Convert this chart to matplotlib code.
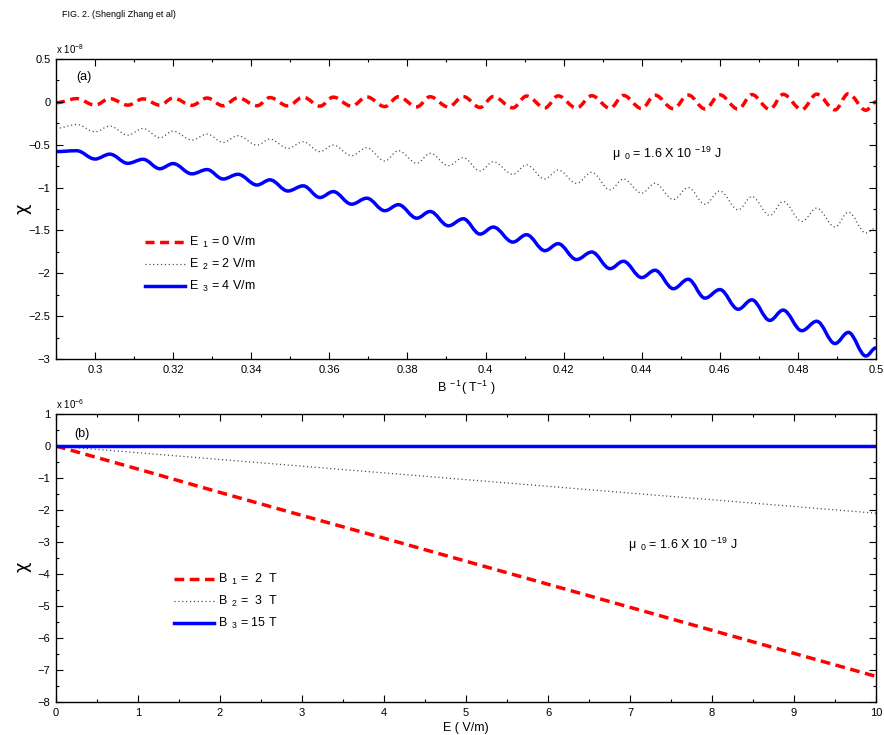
import matplotlib
matplotlib.use("Agg")
from matplotlib import pyplot as plt
from matplotlib.path import Path
from matplotlib.patches import PathPatch
from matplotlib.ticker import MultipleLocator, FuncFormatter

plt.rcParams['font.family'] = ['Liberation Sans', 'DejaVu Sans']
plt.rcParams['mathtext.fontset'] = 'custom'
plt.rcParams['mathtext.rm'] = 'Liberation Sans'
plt.rcParams['mathtext.it'] = 'Liberation Sans:italic'
plt.rcParams['mathtext.default'] = 'regular'

# ---- panel (a): chi (x 1e-8) vs 1/B, peaks and troughs
inv_B = [0.2900, 0.2953, 0.3000, 0.3038, 0.3084, 0.3123, 0.3166, 0.3200, 0.3248, 0.3287,
         0.3328, 0.3366, 0.3415, 0.3448, 0.3494, 0.3533, 0.3576, 0.3610, 0.3657, 0.3696,
         0.3742, 0.3777, 0.3824, 0.3858, 0.3905, 0.3943, 0.3986, 0.4020, 0.4070, 0.4105,
         0.4152, 0.4186, 0.4233, 0.4272, 0.4319, 0.4353, 0.4400, 0.4434, 0.4481, 0.4519,
         0.4562, 0.4600, 0.4647, 0.4682, 0.4728, 0.4762, 0.4810, 0.4848, 0.4895, 0.4929,
         0.4974, 0.5000]
chi_E1 = [-0.010, 0.038, -0.038, 0.038, -0.038, 0.035, -0.038, 0.045, -0.040, 0.045,
          -0.045, 0.048, -0.045, 0.050, -0.047, 0.055, -0.050, 0.055, -0.050, 0.058,
          -0.055, 0.060, -0.058, 0.060, -0.060, 0.062, -0.065, 0.062, -0.070, 0.068,
          -0.070, 0.070, -0.072, 0.072, -0.075, 0.075, -0.078, 0.078, -0.080, 0.080,
          -0.082, 0.082, -0.085, 0.085, -0.088, 0.088, -0.090, 0.090, -0.093, 0.095,
          -0.097, 0.000]
chi_E2 = [-0.310, -0.264, -0.349, -0.283, -0.388, -0.310, -0.419, -0.341, -0.446, -0.376,
          -0.473, -0.395, -0.504, -0.434, -0.543, -0.465, -0.580, -0.504, -0.628, -0.535,
          -0.690, -0.570, -0.717, -0.600, -0.744, -0.651, -0.806, -0.698, -0.845, -0.736,
          -0.900, -0.795, -0.950, -0.822, -1.027, -0.900, -1.066, -0.950, -1.140, -1.000,
          -1.194, -1.040, -1.260, -1.105, -1.326, -1.163, -1.395, -1.240, -1.460, -1.287,
          -1.530, -1.470]
chi_E3 = [-0.580, -0.570, -0.667, -0.610, -0.717, -0.670, -0.780, -0.720, -0.840, -0.790,
          -0.900, -0.845, -0.970, -0.910, -1.040, -0.980, -1.116, -1.047, -1.194, -1.124,
          -1.270, -1.200, -1.357, -1.279, -1.446, -1.364, -1.543, -1.461, -1.636, -1.550,
          -1.736, -1.655, -1.840, -1.752, -1.946, -1.860, -2.050, -1.965, -2.180, -2.070,
          -2.290, -2.190, -2.420, -2.310, -2.550, -2.430, -2.670, -2.560, -2.820, -2.690,
          -2.965, -2.870]
labels_a = [r'E$_{\ \ 1}$ = 0 V/m', r'E$_{\ \ 2}$ = 2 V/m', r'E$_{\ \ 3}$ = 4 V/m']

# ---- panel (b): chi (x 1e-6) vs E
E_field = [0, 1, 2, 3, 4, 5, 6, 7, 8, 9, 10]
chi_B1 = [0, -0.72, -1.45, -2.17, -2.88, -3.60, -4.32, -5.04, -5.76, -6.48, -7.20]
chi_B2 = [0, -0.21, -0.42, -0.63, -0.84, -1.05, -1.26, -1.47, -1.68, -1.89, -2.10]
chi_B3 = [0, 0, 0, 0, 0, 0, 0, 0, 0, 0, 0]
labels_b = [r'B$_{\ \ 1}$ =  2  T', r'B$_{\ \ 2}$ =  3  T', r'B$_{\ \ 3}$ = 15 T']

red = (1, 0, 0)
gray = (0.25, 0.25, 0.25)
blue = (0, 0, 1)
mu_txt = r'$\mu_{\ \ 0}$ = 1.6 X 10$^{\ -19}$ J'


def smooth(xs, ys):
    # bezier through the read extrema, flat tangent at each one
    verts = [(xs[0], ys[0])]
    codes = [Path.MOVETO]
    for i in range(len(xs) - 1):
        d = (xs[i + 1] - xs[i]) * 0.36
        verts += [(xs[i] + d, ys[i]), (xs[i + 1] - d, ys[i + 1]), (xs[i + 1], ys[i + 1])]
        codes += [Path.CURVE4] * 3
    return Path(verts, codes)


def fmt(v, pos):
    return ('%g' % v).replace('-', '\u2212')


def style_axes(ax):
    ax.tick_params(which='both', direction='in', top=True, right=True,
                   labelsize=8, pad=4, width=0.8)
    ax.tick_params(which='major', length=5)
    ax.tick_params(which='minor', length=2.5)
    ax.xaxis.set_major_formatter(FuncFormatter(fmt))
    ax.yaxis.set_major_formatter(FuncFormatter(fmt))
    for s in ax.spines.values():
        s.set_linewidth(1.0)


fig = plt.figure(figsize=(8.84, 7.35), dpi=100)
fig.text(0.07, 0.986, "FIG. 2. (Shengli Zhang et al)", fontsize=6.5, va='top')

# ---------------- (a)
axA = fig.add_axes([0.0633, 0.5116, 0.9277, 0.4081])
specs = [(chi_E1, red, 2.5, (0, (2.6, 1.6))),
         (chi_E2, gray, 0.9, (0, (0.9, 2.2))),
         (chi_E3, blue, 2.5, 'solid')]
for (ys, c, lw, ls), lab in zip(specs, labels_a):
    axA.add_patch(PathPatch(smooth(inv_B, ys), fill=False, edgecolor=c,
                            linewidth=lw, linestyle=ls))
    axA.plot([], [], color=c, lw=lw, linestyle=ls, label=lab)
axA.set_xlim(0.29, 0.5)
axA.set_ylim(-3, 0.5)
axA.xaxis.set_major_locator(MultipleLocator(0.02))
axA.xaxis.set_minor_locator(MultipleLocator(0.01))
axA.yaxis.set_major_locator(MultipleLocator(0.5))
axA.yaxis.set_minor_locator(MultipleLocator(0.25))
style_axes(axA)
axA.set_xlabel(r'B$^{\ -1}$( T$^{-1}$ )', fontsize=9, labelpad=3)
axA.set_ylabel('\u03c7', fontsize=13, family='DejaVu Sans')
axA.yaxis.set_label_coords(-0.03, 0.5)
axA.text(0.0, 1.01, r'x 10$^{-8}$', transform=axA.transAxes, fontsize=7, va='bottom')
axA.text(0.025, 0.93, '(a)', transform=axA.transAxes, fontsize=9)
axA.text(0.678, 0.67, mu_txt, transform=axA.transAxes, fontsize=9)
axA.legend(loc='upper left', bbox_to_anchor=(0.095, 0.45), frameon=False, fontsize=9,
           handlelength=3.2, handletextpad=0.3, labelspacing=0.55)

# ---------------- (b)
axB = fig.add_axes([0.0633, 0.0449, 0.9277, 0.3918])
axB.plot(E_field, chi_B1, color=red, lw=2.5, dashes=(2.8, 1.6), label=labels_b[0])
axB.plot(E_field, chi_B2, color=gray, lw=0.9, dashes=(0.9, 2.2), label=labels_b[1])
axB.plot(E_field, chi_B3, color=blue, lw=2.5, label=labels_b[2])
axB.set_xlim(0, 10)
axB.set_ylim(-8, 1)
axB.xaxis.set_major_locator(MultipleLocator(1))
axB.xaxis.set_minor_locator(MultipleLocator(0.5))
axB.yaxis.set_major_locator(MultipleLocator(1))
axB.yaxis.set_minor_locator(MultipleLocator(0.5))
style_axes(axB)
axB.set_xlabel('E ( V/m)', fontsize=9, labelpad=3)
axB.set_ylabel('\u03c7', fontsize=13, family='DejaVu Sans')
axB.yaxis.set_label_coords(-0.03, 0.47)
axB.text(0.0, 1.01, r'x 10$^{-6}$', transform=axB.transAxes, fontsize=7, va='bottom')
axB.text(0.022, 0.92, '(b)', transform=axB.transAxes, fontsize=9)
axB.text(0.697, 0.53, mu_txt, transform=axB.transAxes, fontsize=9)
axB.legend(loc='upper left', bbox_to_anchor=(0.13, 0.49), frameon=False, fontsize=9,
           handlelength=3.2, handletextpad=0.3, labelspacing=0.55)

fig.savefig("out.png", dpi=100)
plt.close()
